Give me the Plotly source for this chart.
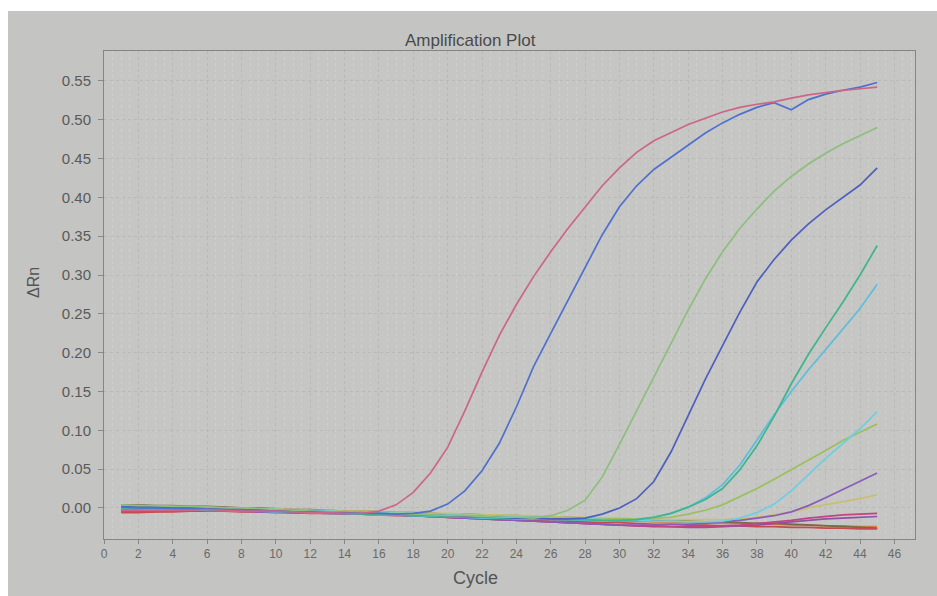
import plotly.graph_objects as go

cycles = list(range(1, 46))

pink = [-0.003,-0.003,-0.003,-0.003,-0.003,-0.002,-0.003,-0.004,-0.004,-0.004,
        -0.005,-0.006,-0.006,-0.007,-0.007,-0.004,0.004,0.020,0.045,0.078,
        0.125,0.175,0.222,0.262,0.298,0.330,0.360,0.387,0.415,0.438,
        0.458,0.473,0.484,0.494,0.502,0.510,0.516,0.520,0.523,0.528,
        0.532,0.535,0.538,0.540,0.542]
blue1 = [0.001,0.000,0.000,-0.001,-0.001,-0.002,-0.002,-0.003,-0.003,-0.004,
         -0.005,-0.005,-0.006,-0.006,-0.007,-0.007,-0.008,-0.007,-0.004,0.005,
         0.022,0.048,0.083,0.130,0.182,0.225,0.268,0.310,0.352,0.388,
         0.415,0.436,0.452,0.467,0.483,0.496,0.507,0.516,0.522,0.513,
         0.526,0.533,0.538,0.542,0.548]
light_green = [0.004,0.003,0.003,0.002,0.002,0.001,0.000,0.000,-0.001,-0.002,
               -0.003,-0.004,-0.005,-0.005,-0.006,-0.007,-0.008,-0.008,-0.009,-0.010,
               -0.010,-0.011,-0.012,-0.012,-0.013,-0.010,-0.003,0.010,0.040,0.082,
               0.125,0.170,0.213,0.255,0.295,0.330,0.360,0.385,0.408,0.427,
               0.443,0.457,0.469,0.479,0.490]
blue2 = [0.002,0.002,0.001,0.001,0.000,0.000,-0.001,-0.001,-0.002,-0.003,
         -0.003,-0.004,-0.005,-0.006,-0.006,-0.007,-0.008,-0.008,-0.009,-0.010,
         -0.011,-0.011,-0.012,-0.013,-0.013,-0.014,-0.014,-0.013,-0.008,0.000,
         0.012,0.034,0.072,0.120,0.166,0.209,0.252,0.291,0.320,0.345,
         0.366,0.384,0.400,0.416,0.438]
green = [0.000,0.000,-0.001,-0.001,-0.002,-0.002,-0.003,-0.003,-0.004,-0.004,
         -0.005,-0.006,-0.006,-0.007,-0.008,-0.008,-0.009,-0.010,-0.010,-0.011,
         -0.012,-0.012,-0.013,-0.013,-0.014,-0.014,-0.015,-0.015,-0.016,-0.016,
         -0.015,-0.012,-0.007,0.001,0.011,0.025,0.049,0.080,0.118,0.160,
         0.198,0.232,0.265,0.300,0.338]
cyan = [-0.001,-0.001,-0.002,-0.002,-0.002,-0.003,-0.003,-0.004,-0.004,-0.005,
        -0.005,-0.006,-0.007,-0.007,-0.008,-0.009,-0.009,-0.010,-0.011,-0.011,
        -0.012,-0.013,-0.013,-0.014,-0.014,-0.015,-0.015,-0.016,-0.016,-0.016,
        -0.015,-0.012,-0.007,0.001,0.013,0.030,0.055,0.088,0.120,0.150,
        0.178,0.204,0.230,0.257,0.288]
cyan2 = [0.003,0.002,0.002,0.001,0.001,0.000,0.000,-0.001,-0.001,-0.002,
         -0.003,-0.003,-0.004,-0.005,-0.005,-0.006,-0.007,-0.007,-0.008,-0.009,
         -0.010,-0.010,-0.011,-0.012,-0.012,-0.013,-0.014,-0.014,-0.015,-0.016,
         -0.016,-0.017,-0.017,-0.018,-0.018,-0.017,-0.013,-0.006,0.005,0.022,
         0.043,0.064,0.083,0.102,0.124]
yellow_green = [0.002,0.002,0.001,0.001,0.000,0.000,-0.001,-0.001,-0.002,-0.003,
                -0.003,-0.004,-0.004,-0.005,-0.006,-0.006,-0.007,-0.008,-0.008,-0.009,
                -0.010,-0.010,-0.011,-0.011,-0.012,-0.012,-0.013,-0.013,-0.014,-0.014,
                -0.014,-0.013,-0.012,-0.008,-0.003,0.004,0.014,0.025,0.037,0.049,
                0.062,0.074,0.087,0.098,0.108]
purple = [-0.002,-0.002,-0.002,-0.003,-0.003,-0.003,-0.004,-0.004,-0.005,-0.005,
          -0.006,-0.006,-0.007,-0.007,-0.008,-0.009,-0.009,-0.010,-0.011,-0.012,
          -0.013,-0.014,-0.015,-0.016,-0.017,-0.018,-0.019,-0.020,-0.021,-0.022,
          -0.022,-0.022,-0.021,-0.021,-0.020,-0.018,-0.016,-0.013,-0.010,-0.005,
          0.003,0.013,0.024,0.034,0.045]
tan = [0.003,0.003,0.002,0.002,0.001,0.001,0.000,0.000,-0.001,-0.001,
       -0.002,-0.003,-0.003,-0.004,-0.004,-0.005,-0.006,-0.006,-0.007,-0.007,
       -0.008,-0.009,-0.009,-0.010,-0.010,-0.011,-0.012,-0.012,-0.013,-0.013,
       -0.014,-0.014,-0.015,-0.015,-0.015,-0.015,-0.014,-0.012,-0.009,-0.005,
       0.000,0.004,0.008,0.012,0.017]
magenta = [-0.004,-0.004,-0.004,-0.004,-0.003,-0.003,-0.003,-0.004,-0.004,-0.005,
           -0.006,-0.006,-0.007,-0.007,-0.008,-0.008,-0.009,-0.010,-0.011,-0.012,
           -0.013,-0.014,-0.015,-0.016,-0.017,-0.018,-0.019,-0.020,-0.021,-0.022,
           -0.023,-0.023,-0.024,-0.024,-0.024,-0.023,-0.022,-0.020,-0.018,-0.016,
           -0.013,-0.011,-0.009,-0.008,-0.007]
violet = [-0.001,-0.001,-0.001,-0.001,-0.001,-0.002,-0.002,-0.003,-0.003,-0.004,
          -0.005,-0.005,-0.006,-0.007,-0.007,-0.008,-0.009,-0.010,-0.011,-0.012,
          -0.013,-0.014,-0.015,-0.016,-0.017,-0.018,-0.019,-0.020,-0.021,-0.022,
          -0.023,-0.024,-0.024,-0.025,-0.025,-0.024,-0.023,-0.022,-0.020,-0.018,
          -0.016,-0.014,-0.013,-0.012,-0.011]
red = [-0.006,-0.006,-0.005,-0.005,-0.004,-0.004,-0.004,-0.005,-0.005,-0.006,
       -0.006,-0.007,-0.007,-0.008,-0.008,-0.009,-0.010,-0.010,-0.011,-0.012,
       -0.013,-0.013,-0.014,-0.015,-0.016,-0.016,-0.017,-0.018,-0.019,-0.019,
       -0.020,-0.021,-0.021,-0.022,-0.022,-0.023,-0.023,-0.024,-0.024,-0.025,
       -0.025,-0.026,-0.026,-0.027,-0.027]
brown = [0.004,0.004,0.003,0.003,0.002,0.002,0.001,0.000,0.000,-0.001,
         -0.002,-0.002,-0.003,-0.004,-0.004,-0.005,-0.006,-0.006,-0.007,-0.008,
         -0.008,-0.009,-0.010,-0.010,-0.011,-0.012,-0.012,-0.013,-0.014,-0.014,
         -0.015,-0.016,-0.016,-0.017,-0.018,-0.018,-0.019,-0.020,-0.020,-0.021,
         -0.022,-0.023,-0.024,-0.025,-0.026]
orange = [-0.005,-0.005,-0.005,-0.004,-0.004,-0.003,-0.003,-0.003,-0.004,-0.004,
          -0.005,-0.005,-0.006,-0.006,-0.007,-0.007,-0.008,-0.009,-0.009,-0.010,
          -0.011,-0.011,-0.012,-0.013,-0.013,-0.014,-0.015,-0.015,-0.016,-0.017,
          -0.017,-0.018,-0.018,-0.019,-0.019,-0.020,-0.020,-0.021,-0.021,-0.022,
          -0.022,-0.023,-0.023,-0.024,-0.024]

x_ticks = list(range(0, 47, 2))
y_ticks = [0.00, 0.05, 0.10, 0.15, 0.20, 0.25, 0.30, 0.35, 0.40, 0.45, 0.50, 0.55]

series = [
    ("orange", orange, "#d08048"),
    ("brown", brown, "#7a6a42"),
    ("red", red, "#c64a50"),
    ("violet", violet, "#9050a8"),
    ("magenta", magenta, "#c2457e"),
    ("tan", tan, "#c8bf70"),
    ("purple", purple, "#8a5cb8"),
    ("yellow_green", yellow_green, "#9cbf5e"),
    ("cyan2", cyan2, "#6ccfe0"),
    ("cyan", cyan, "#5cbedc"),
    ("green", green, "#3eb58c"),
    ("blue2", blue2, "#4d5fbf"),
    ("light_green", light_green, "#8dbf7c"),
    ("blue1", blue1, "#4f70cf"),
    ("pink", pink, "#cc6688"),
]

fig = go.Figure()
for name, vals, col in series:
    fig.add_trace(go.Scatter(x=cycles, y=vals, mode="lines", name=name,
                             line=dict(color=col, width=1.7), showlegend=False))

W, H = 937, 596
ml, mt = 104, 51
mr = W - 915
mb = H - 539
pw, ph = W - ml - mr, H - mt - mb

def px(xs):
    return (xs - ml) / pw

def py(ys):
    return (H - mb - ys) / ph

bg = "#c4c4c2"
fig.update_layout(
    width=W, height=H,
    margin=dict(l=ml, r=mr, t=mt, b=mb),
    paper_bgcolor=bg, plot_bgcolor="#c6c6c4",
    font=dict(family="Liberation Sans, Arial, sans-serif", color="#555555"),
    shapes=[
        dict(type="rect", xref="paper", yref="paper", x0=px(-10), x1=px(W + 10),
             y0=py(11), y1=py(-10), fillcolor="white", line=dict(width=0)),
        dict(type="rect", xref="paper", yref="paper", x0=px(-10), x1=px(8),
             y0=py(H + 10), y1=py(-10), fillcolor="white", line=dict(width=0)),
    ],
    annotations=[
        dict(text="Amplification Plot", xref="paper", yref="paper",
             x=px(470), y=py(40), showarrow=False, xanchor="center", yanchor="middle",
             font=dict(size=17, color="#4a4a4a")),
        dict(text="Cycle", xref="paper", yref="paper",
             x=px(475), y=py(578), showarrow=False, xanchor="center", yanchor="middle",
             font=dict(size=18, color="#555555")),
        dict(text="ΔRn", xref="paper", yref="paper", textangle=-90,
             x=px(33), y=py(283), showarrow=False, xanchor="center", yanchor="middle",
             font=dict(size=16, color="#555555")),
    ],
)
fig.update_xaxes(
    range=[0, 47.2], tickvals=x_ticks, ticktext=[str(t) for t in x_ticks],
    ticks="outside", ticklen=4, tickcolor="#888888",
    tickfont=dict(size=12, color="#6a6a6a"),
    showline=True, linecolor="#858585", linewidth=1, mirror=True,
    showgrid=True, gridcolor="#b9b9b7", gridwidth=1, griddash="dot",
    minor=dict(dtick=0.5, showgrid=True, gridcolor="#cfcfcd", gridwidth=1),
    zeroline=False, fixedrange=True,
)
fig.update_yaxes(
    range=[-0.040, 0.5886], tickvals=y_ticks, ticktext=[f"{t:.2f}" for t in y_ticks],
    ticks="outside", ticklen=5, tickcolor="#888888", ticklabelstandoff=4,
    tickfont=dict(size=15, color="#5a5a5a"),
    showline=True, linecolor="#858585", linewidth=1, mirror=True,
    showgrid=True, gridcolor="#b9b9b7", gridwidth=1, griddash="dot",
    zeroline=False, fixedrange=True,
)

fig.write_html(
    "out.html",
    config={"displayModeBar": False},
    post_script="document.body.style.margin='0px';document.body.style.overflow='hidden';",
)
